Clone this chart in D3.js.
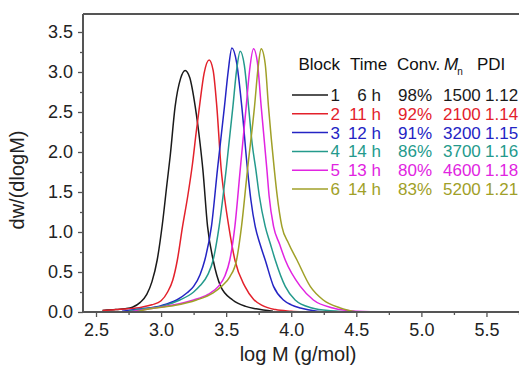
<!DOCTYPE html>
<html><head><meta charset="utf-8">
<script src="https://cdn.jsdelivr.net/npm/d3@7"></script>
<style>body{margin:0;background:#fff}svg{display:block;font-family:"Liberation Sans",Arial,sans-serif}</style>
</head><body>
<svg id="c" width="519" height="369"></svg>
<script>
const blocks=["1","2","3","4","5","6"];
const times=["6 h","11 h","12 h","14 h","13 h","14 h"];
const convs=["98%","92%","91%","86%","80%","83%"];
const mns=["1500","2100","3200","3700","4600","5200"];
const pdis=["1.12","1.14","1.15","1.16","1.18","1.21"];
const colors=["#1a1a1a","#e3212b","#2424c4","#249a8c","#e124e1","#a0a028"];
const xTicks=[2.5,3.0,3.5,4.0,4.5,5.0,5.5];
const yTicks=[0.0,0.5,1.0,1.5,2.0,2.5,3.0,3.5];

const s1=[[2.55,0.02],[2.65,0.03],[2.72,0.04],[2.78,0.06],[2.84,0.12],[2.89,0.22],[2.93,0.38],[2.97,0.65],[3.01,1.1],[3.045,1.6],[3.07,1.95],[3.108,2.57],[3.15,2.92],[3.185,3.02],[3.22,2.93],[3.262,2.57],[3.30,2.1],[3.321,1.78],[3.357,1.07],[3.40,0.65],[3.458,0.32],[3.55,0.15],[3.65,0.07],[3.73,0.04],[3.86,0.01]];
const s2=[[2.55,0.02],[2.65,0.03],[2.75,0.04],[2.85,0.06],[2.93,0.09],[3.0,0.14],[3.05,0.25],[3.09,0.4],[3.125,0.65],[3.165,1.07],[3.205,1.45],[3.241,1.85],[3.27,2.25],[3.295,2.57],[3.33,2.98],[3.369,3.15],[3.40,3.02],[3.428,2.57],[3.462,1.78],[3.49,1.4],[3.52,1.07],[3.567,0.65],[3.644,0.32],[3.71,0.16],[3.78,0.08],[3.88,0.03],[4.0,0.01],[4.09,0.0]];
const s3=[[2.7,0.01],[2.85,0.04],[3.0,0.08],[3.12,0.15],[3.2,0.24],[3.25,0.32],[3.30,0.47],[3.336,0.65],[3.387,1.07],[3.433,1.78],[3.487,2.57],[3.515,3.0],[3.544,3.30],[3.58,3.12],[3.62,2.57],[3.664,1.78],[3.69,1.4],[3.723,1.07],[3.76,0.85],[3.8,0.65],[3.864,0.32],[3.94,0.15],[4.0,0.09],[4.07,0.05],[4.2,0.01],[4.3,0.0]];
const s4=[[2.75,0.01],[2.86,0.04],[3.0,0.07],[3.144,0.15],[3.25,0.25],[3.3,0.33],[3.36,0.47],[3.4,0.65],[3.446,1.07],[3.50,1.78],[3.552,2.57],[3.58,3.02],[3.608,3.26],[3.64,3.08],[3.672,2.57],[3.70,2.1],[3.728,1.78],[3.755,1.45],[3.8,1.07],[3.84,0.85],[3.877,0.65],[3.954,0.32],[4.03,0.15],[4.16,0.05],[4.3,0.015],[4.5,0.0]];
const s5=[[2.75,0.0],[2.95,0.05],[3.1,0.09],[3.25,0.15],[3.36,0.22],[3.44,0.32],[3.49,0.45],[3.528,0.65],[3.567,1.07],[3.608,1.78],[3.654,2.57],[3.68,3.02],[3.71,3.29],[3.74,3.12],[3.769,2.57],[3.813,1.78],[3.83,1.45],[3.864,1.07],[3.91,0.85],[3.954,0.65],[4.07,0.32],[4.17,0.15],[4.32,0.05],[4.5,0.01],[4.77,0.0]];
const s6=[[2.8,0.0],[2.913,0.04],[3.1,0.08],[3.272,0.15],[3.40,0.24],[3.464,0.32],[3.528,0.44],[3.58,0.65],[3.618,1.07],[3.664,1.78],[3.718,2.57],[3.745,3.05],[3.769,3.29],[3.80,3.1],[3.825,2.57],[3.87,1.78],[3.89,1.48],[3.928,1.07],[3.979,0.86],[4.044,0.65],[4.146,0.32],[4.246,0.15],[4.377,0.05],[4.5,0.0]];
const series=[s1,s2,s3,s4,s5,s6];

const L=83,T=14,R=519,B=312;
const x=d3.scaleLinear().domain([2.4,5.75]).range([L,R]);
const y=d3.scaleLinear().domain([0,3.725]).range([B,T]);
const svg=d3.select("#c");
const axCol="#555";

svg.append("defs").append("clipPath").attr("id","clp").append("rect")
  .attr("x",L).attr("y",T).attr("width",R-L).attr("height",B-T);

const line=d3.line().x(d=>x(d[0])).y(d=>y(d[1])).curve(d3.curveMonotoneX);
const g=svg.append("g").attr("clip-path","url(#clp)");
series.forEach((s,i)=>{
  g.append("path").datum(s).attr("d",line).attr("fill","none")
   .attr("stroke",colors[i]).attr("stroke-width",1.5);
});

// top border
svg.append("line").attr("x1",L).attr("x2",R).attr("y1",T).attr("y2",T)
  .attr("stroke",axCol).attr("stroke-width",2);

// x axis
const xa=svg.append("g").attr("transform",`translate(0,${B})`)
  .call(d3.axisBottom(x).tickValues(xTicks).tickFormat(d3.format(".1f")).tickSize(5).tickPadding(6));
const xm=svg.append("g").attr("transform",`translate(0,${B})`)
  .call(d3.axisBottom(x).tickValues(xTicks.map(v=>v+0.25).concat([])).tickFormat("").tickSize(3));
// y axis
const ya=svg.append("g").attr("transform",`translate(${L},0)`)
  .call(d3.axisLeft(y).tickValues(yTicks).tickFormat(d3.format(".1f")).tickSize(5).tickPadding(5));
const ym=svg.append("g").attr("transform",`translate(${L},0)`)
  .call(d3.axisLeft(y).tickValues(yTicks.map(v=>v+0.25).filter(v=>v<3.72)).tickFormat("").tickSize(3));
[xa,xm,ya,ym].forEach(a=>{
  a.selectAll("path").attr("stroke",axCol).attr("stroke-width",2);
  a.selectAll("line").attr("stroke",axCol).attr("stroke-width",1.3);
  a.selectAll("text").attr("font-size",18).attr("fill","#222").attr("font-family","Liberation Sans, Arial, sans-serif");
});
xa.select(".domain").attr("d",`M${L},0H${R}`);
xm.select(".domain").remove();
ym.select(".domain").remove();
ya.select(".domain").attr("d",`M0,${T}V${B}`);

// axis titles
svg.append("text").attr("x",298).attr("y",361).attr("text-anchor","middle")
  .attr("font-size",20).attr("fill","#222").text("log M (g/mol)");
svg.append("text").attr("transform","translate(24,180) rotate(-90)").attr("text-anchor","middle")
  .attr("font-size",20).attr("fill","#222").text("dw/(dlogM)");

// legend table
const fs=17, hy=70, r0=101, dr=18.8;
const hdr=svg.append("g").attr("font-size",fs).attr("fill","#111");
hdr.append("text").attr("x",340).attr("y",hy).attr("text-anchor","end").text("Block");
hdr.append("text").attr("x",350).attr("y",hy).text("Time");
hdr.append("text").attr("x",397).attr("y",hy).text("Conv.");
const mt=hdr.append("text").attr("x",444).attr("y",hy);
mt.append("tspan").attr("font-style","italic").text("M");
mt.append("tspan").attr("font-size",10).attr("dy",5).attr("dx",-1).text("n");
hdr.append("text").attr("x",477).attr("y",hy).text("PDI");

blocks.forEach((b,i)=>{
  const yy=r0+i*dr;
  const row=svg.append("g").attr("fill",colors[i]).attr("font-size",fs);
  row.append("line").attr("x1",292).attr("x2",328).attr("y1",yy-6).attr("y2",yy-6)
    .attr("stroke",colors[i]).attr("stroke-width",1.5);
  row.append("text").attr("x",340).attr("y",yy).attr("text-anchor","end").text(b);
  row.append("text").attr("x",381).attr("y",yy).attr("text-anchor","end").text(times[i]);
  row.append("text").attr("x",398).attr("y",yy).text(convs[i]);
  row.append("text").attr("x",443).attr("y",yy).text(mns[i]);
  row.append("text").attr("x",485).attr("y",yy).text(pdis[i]);
});
</script>
</body></html>
